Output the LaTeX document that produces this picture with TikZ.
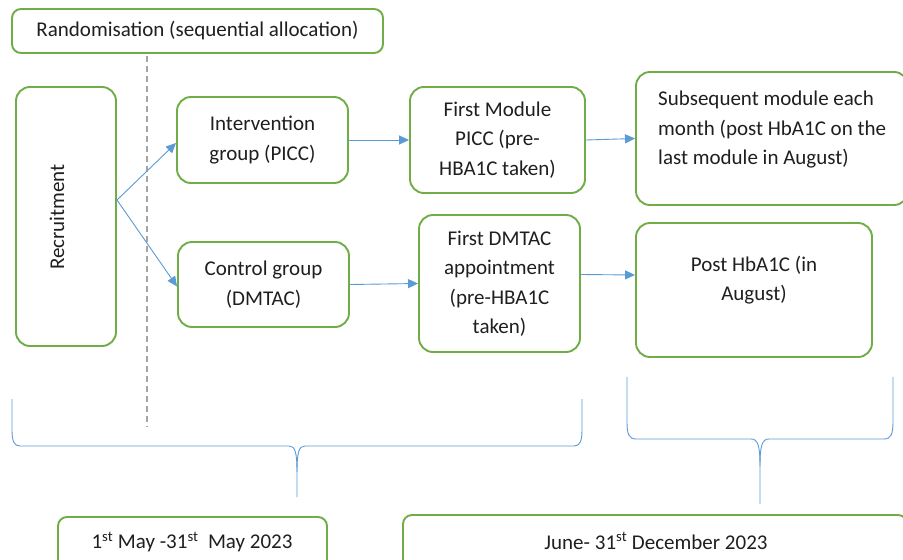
\documentclass[tikz,border=0pt]{standalone}
\usepackage{fontspec}
\setmainfont{Carlito}
\usetikzlibrary{arrows.meta}
\definecolor{boxgreen}{RGB}{112,173,71}
\definecolor{arrowblue}{RGB}{91,155,213}
\definecolor{dashgray}{RGB}{165,165,165}
\begin{document}
\begin{tikzpicture}[x=1pt,y=-1pt,
  box/.style={draw=boxgreen, line width=1.9pt, rounded corners=14pt, inner sep=0pt, fill=white},
  lbl/.style={font=\fontsize{21}{29.5}\selectfont, align=center, inner sep=0pt, text=black!88},
  arr/.style={draw=arrowblue, line width=0.9pt, -{Triangle[length=10pt,width=9pt]}},
  bracestyle/.style={draw=arrowblue, line width=0.9pt},
  dashline/.style={draw=dashgray, line width=1.2pt, dash pattern=on 6pt off 4pt},
]
\useasboundingbox (0,0) rectangle (903,560);
\clip (0,0) rectangle (903,560);
\fill[white] (0,0) rectangle (903,560);

% dashed divider
\coordinate (dtop) at (147,56);
\coordinate (dbot) at (147,427);
\draw[dashline] (dtop) -- (dbot);

% boxes
\node[box, rounded corners=9pt, minimum width=371pt, minimum height=44pt, lbl] (rand) at (197.5,31) {Randomisation (sequential allocation)};
\node[box, minimum width=100pt, minimum height=259pt] (rec) at (66,216.5) {};
\node[lbl, rotate=90] (rectxt) at (57,217) {Recruitment};
\node[box, minimum width=171pt, minimum height=86pt, lbl] (intv) at (262.5,140) {Intervention\\group (PICC)};
\node[box, minimum width=171pt, minimum height=85pt, lbl] (ctrl) at (263.5,284.5) {Control group\\(DMTAC)};
\node[box, minimum width=175pt, minimum height=106pt, lbl] (fm) at (497.5,140) {First Module\\PICC (pre-\\HBA1C taken)};
\node[box, minimum width=161pt, minimum height=137pt, lbl] (dm) at (499.5,283.5) {First DMTAC\\appointment\\(pre-HBA1C\\taken)};
\node[box, minimum width=272pt, minimum height=133pt] (sub) at (772,138.5) {};
\node[lbl, align=left, anchor=north west] (subtxt) at (658,91) {Subsequent module each\\month (post HbA1C on the\\last module in August)};
\node[box, minimum width=236pt, minimum height=134pt] (post) at (754,290) {};
\node[lbl] (posttxt) at (754,280) {Post HbA1C (in\\August)};
\node[box, rounded corners=9pt, minimum width=269pt, minimum height=60pt] (per1) at (192.5,547) {};
\node[lbl] (per1txt) at (192,542) {1\textsuperscript{st} May -31\textsuperscript{st}\ \ May 2023};
\node[box, rounded corners=9pt, minimum width=504pt, minimum height=60pt] (per2) at (655,545) {};
\node[lbl] (per2txt) at (656,541) {June- 31\textsuperscript{st} December 2023};

% arrows
\coordinate (split) at (117,200);
\draw[arr] (split) -- ([yshift=-3pt]intv.west);
\draw[arr] (split) -- ([yshift=-2pt]ctrl.west);
\draw[arr] (intv.east) -- (fm.west);
\draw[arr] (ctrl.east) -- (dm.west);
\draw[arr] (fm.east) -- (sub.west);
\draw[arr] ([yshift=9pt]dm.east) -- ([yshift=15pt]post.west);

% braces
\draw[bracestyle] (12,399) -- (12,430) .. controls (12,441) and (14,446) .. (20,446) -- (289,446)
  .. controls (295,446) and (297,452) .. (297,472) -- (297,497);
\draw[bracestyle] (297,472) .. controls (297,452) and (299,446) .. (305,446) -- (574,446)
  .. controls (580,446) and (582,441) .. (582,430) -- (582,399);
\draw[bracestyle] (627,377) -- (627,422) .. controls (627,434) and (629,439) .. (636,439) -- (751,439)
  .. controls (758,439) and (760,446) .. (760,466) -- (760,504);
\draw[bracestyle] (760,466) .. controls (760,446) and (762,439) .. (769,439) -- (884,439)
  .. controls (891,439) and (893,434) .. (893,422) -- (893,377);
\end{tikzpicture}
\end{document}
